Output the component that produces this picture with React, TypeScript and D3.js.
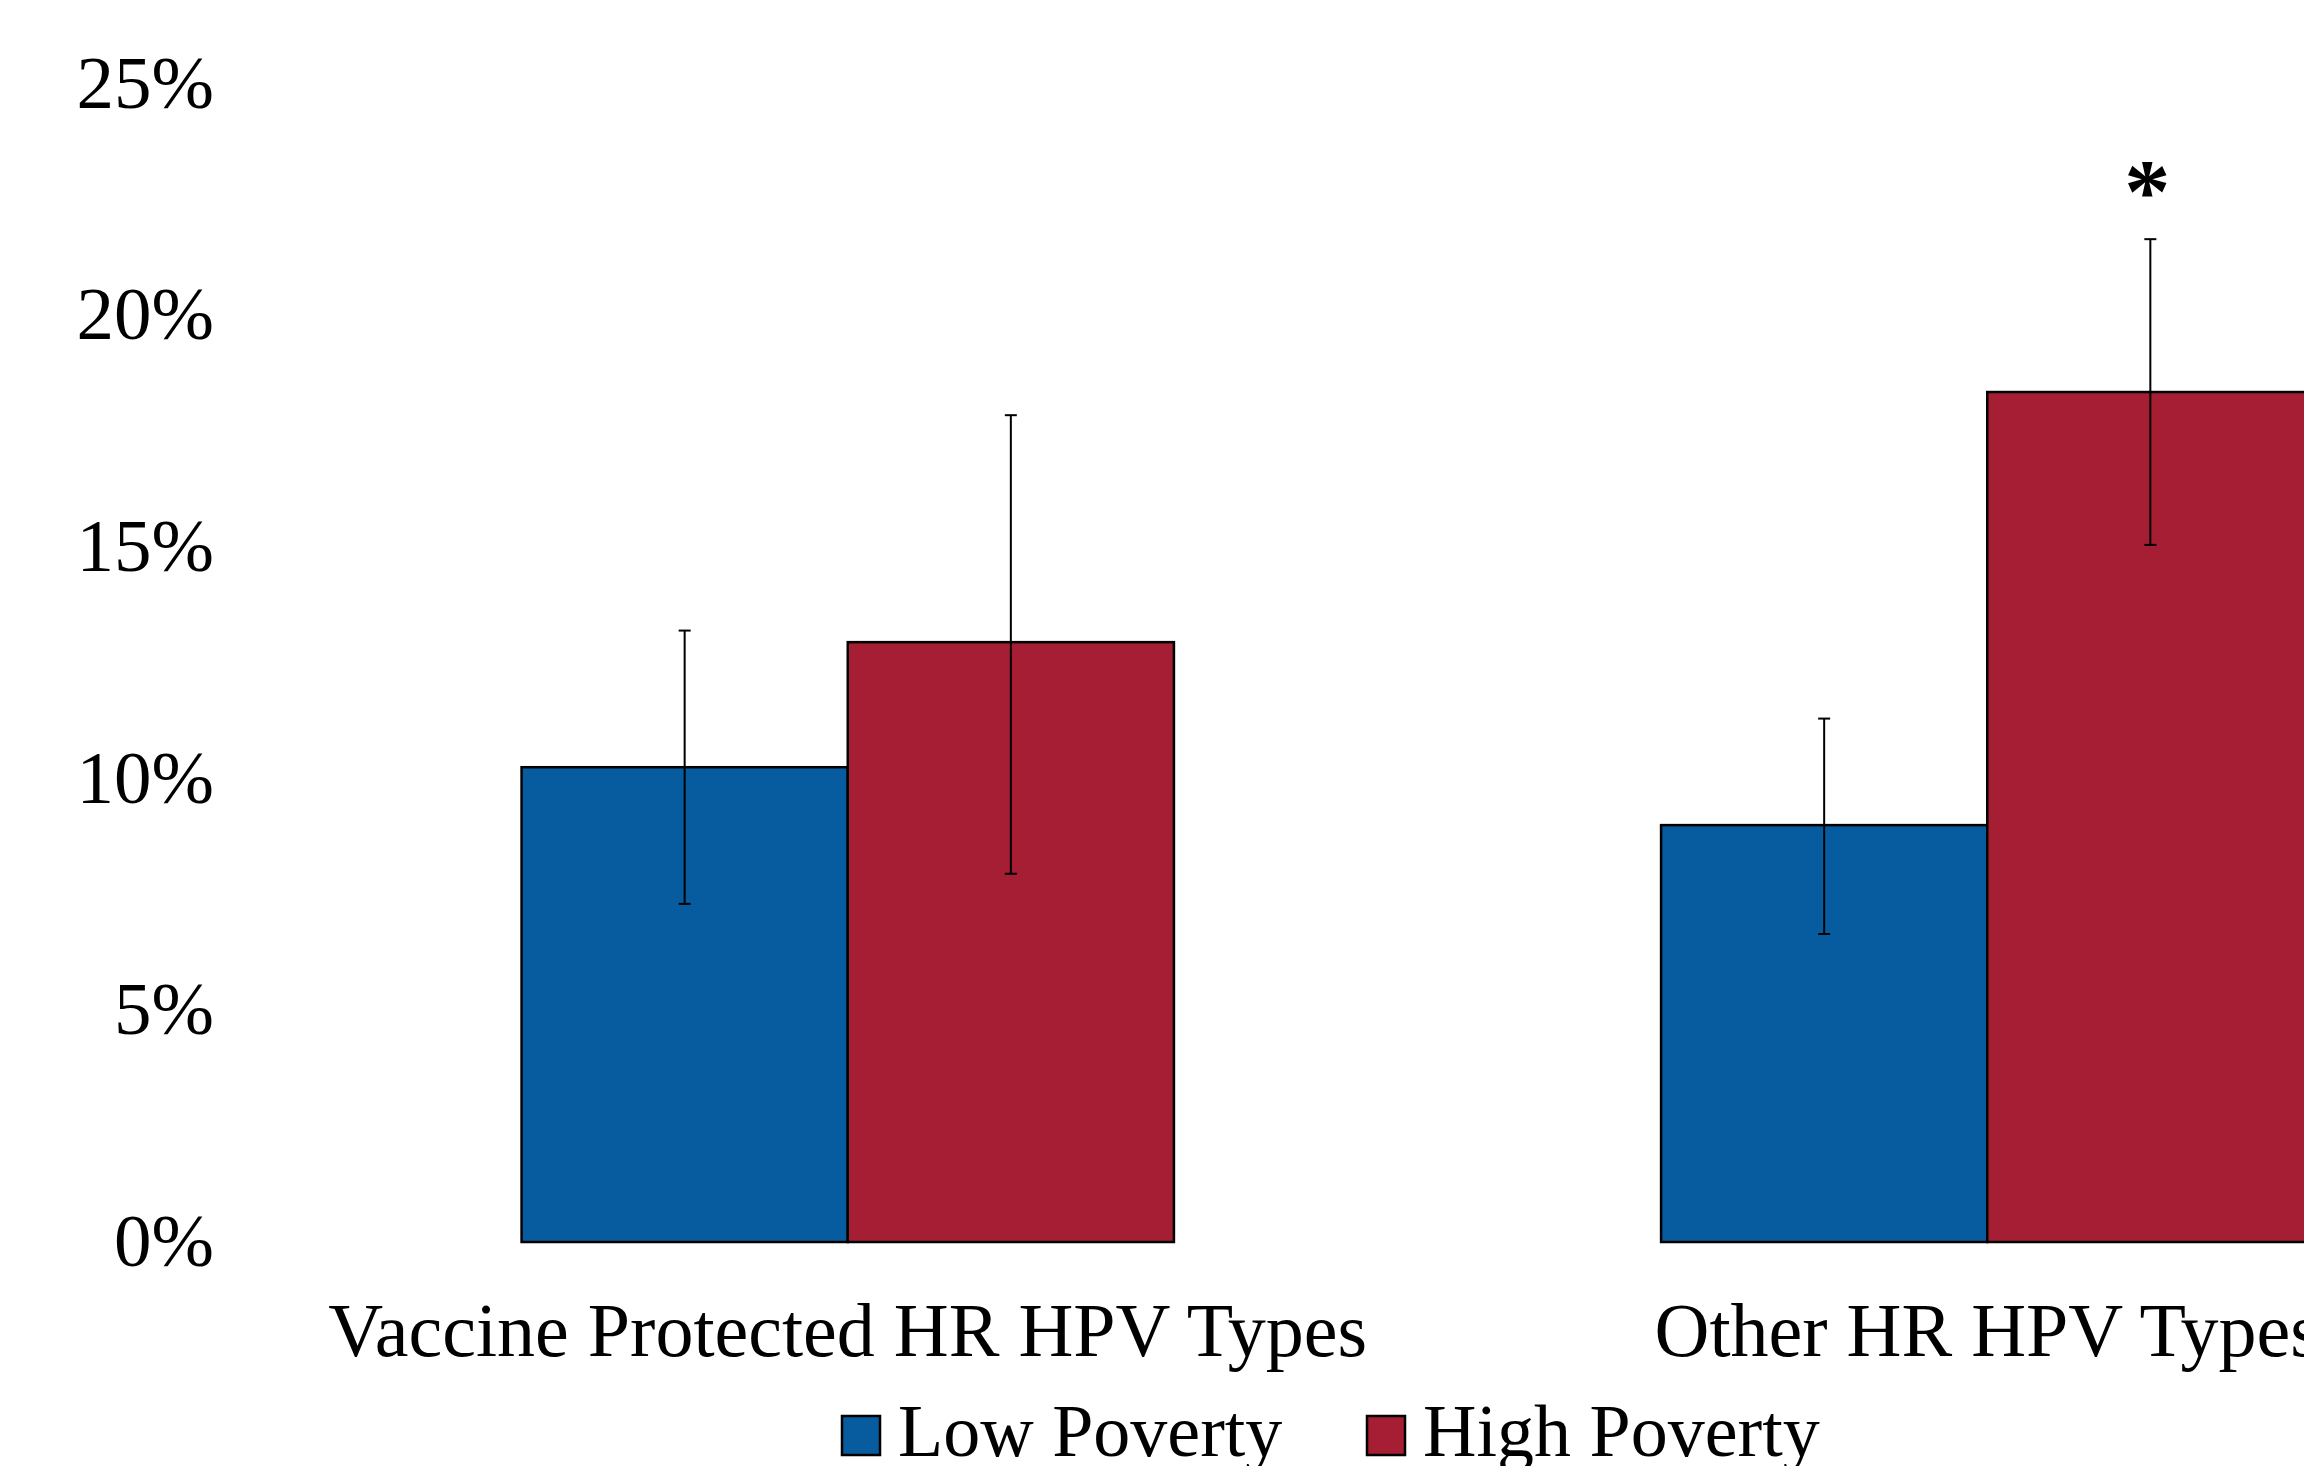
import React, { useEffect, useRef } from 'react';
import * as d3 from 'd3';

const categories = ['Vaccine Protected HR HPV Types', 'Other HR HPV Types'];
const seriesNames = ['Low Poverty', 'High Poverty'];
const seriesColors = ['#075C9F', '#A61E33'];

// prevalence (%)
const lowPoverty = [10.25, 9.0];
const highPoverty = [12.95, 18.35];
const lowPovertyLow = [7.3, 6.65];
const lowPovertyHigh = [13.2, 11.3];
const highPovertyLow = [7.95, 15.05];
const highPovertyHigh = [17.85, 21.65];
const significance = ['', '*'];

const yTicks = [0, 5, 10, 15, 20, 25];

const W = 2304;
const H = 1466;

const App = () => {
  const ref = useRef<SVGSVGElement>(null);

  useEffect(() => {
    const svg = d3.select(ref.current);
    svg.selectAll('*').remove();

    const font = '"Liberation Serif", "Times New Roman", serif';
    const plotLeft = 278;
    const plotRight = 2557;
    const y0 = 1242;
    const yTop = 84;

    const x = d3.scaleBand<string>().domain(categories).range([plotLeft, plotRight]).paddingInner(0.4275).paddingOuter(0.21375);
    const xs = d3.scaleBand<string>().domain(seriesNames).range([0, x.bandwidth()]);
    const y = d3.scaleLinear().domain([0, 25]).range([y0, yTop]);

    const rows = categories.map((c, i) => ({
      cat: c,
      vals: [
        { s: seriesNames[0], v: lowPoverty[i], lo: lowPovertyLow[i], hi: lowPovertyHigh[i], color: seriesColors[0] },
        { s: seriesNames[1], v: highPoverty[i], lo: highPovertyLow[i], hi: highPovertyHigh[i], color: seriesColors[1] },
      ],
    }));

    // y axis labels only
    const yAxis = svg
      .append('g')
      .attr('transform', 'translate(214,0)')
      .call(d3.axisLeft(y).tickValues(yTicks).tickSize(0).tickPadding(0).tickFormat((d) => `${d}%`));
    yAxis.select('.domain').remove();
    yAxis.selectAll('text').attr('font-family', font).attr('font-size', 75).attr('fill', '#000').attr('dy', '0.31em');

    const groups = svg
      .selectAll('g.cat')
      .data(rows)
      .enter()
      .append('g')
      .attr('class', 'cat')
      .attr('transform', (d) => `translate(${x(d.cat)},0)`);

    groups
      .selectAll('rect')
      .data((d) => d.vals)
      .enter()
      .append('rect')
      .attr('x', (d) => xs(d.s)!)
      .attr('y', (d) => y(d.v))
      .attr('width', xs.bandwidth())
      .attr('height', (d) => y0 - y(d.v))
      .attr('fill', (d) => d.color)
      .attr('stroke', '#000')
      .attr('stroke-width', 2.5);

    // error bars
    const err = groups
      .selectAll('g.err')
      .data((d) => d.vals)
      .enter()
      .append('g')
      .attr('class', 'err')
      .attr('stroke', '#000')
      .attr('stroke-width', 2);
    const cx = (d: any) => xs(d.s)! + xs.bandwidth() / 2;
    err.append('line').attr('x1', cx).attr('x2', cx).attr('y1', (d) => y(d.lo)).attr('y2', (d) => y(d.hi));
    err.append('line').attr('x1', (d) => cx(d) - 6).attr('x2', (d) => cx(d) + 6).attr('y1', (d) => y(d.hi)).attr('y2', (d) => y(d.hi));
    err.append('line').attr('x1', (d) => cx(d) - 6).attr('x2', (d) => cx(d) + 6).attr('y1', (d) => y(d.lo)).attr('y2', (d) => y(d.lo));

    // significance marks
    groups
      .append('text')
      .text((d, i) => significance[i])
      .attr('x', xs(seriesNames[1])! + xs.bandwidth() / 2 - 3)
      .attr('y', (d) => y(d.vals[1].hi) - 17)
      .attr('text-anchor', 'middle')
      .attr('font-family', font)
      .attr('font-weight', 'bold')
      .attr('font-size', 92)
      .attr('fill', '#000');

    // category labels
    svg
      .selectAll('text.catlabel')
      .data(categories)
      .enter()
      .append('text')
      .attr('class', 'catlabel')
      .attr('x', (d) => x(d)! + x.bandwidth() / 2)
      .attr('y', 1356)
      .attr('text-anchor', 'middle')
      .attr('font-family', font)
      .attr('font-size', 76)
      .attr('fill', '#000')
      .text((d) => d);

    // legend
    const legendX = [842, 1367];
    const leg = svg
      .selectAll('g.leg')
      .data(seriesNames)
      .enter()
      .append('g')
      .attr('class', 'leg')
      .attr('transform', (d, i) => `translate(${legendX[i]},1416)`);
    leg
      .append('rect')
      .attr('width', 38)
      .attr('height', 39)
      .attr('fill', (d, i) => seriesColors[i])
      .attr('stroke', '#000')
      .attr('stroke-width', 2.5);
    leg
      .append('text')
      .attr('x', 56)
      .attr('y', 40)
      .attr('font-family', font)
      .attr('font-size', 74)
      .attr('fill', '#000')
      .text((d) => d);
  }, []);

  return (
    <svg
      ref={ref}
      width={W}
      height={H}
      style={{ position: 'absolute', left: 0, top: 0, background: '#fff' }}
    ></svg>
  );
};

export default App;
